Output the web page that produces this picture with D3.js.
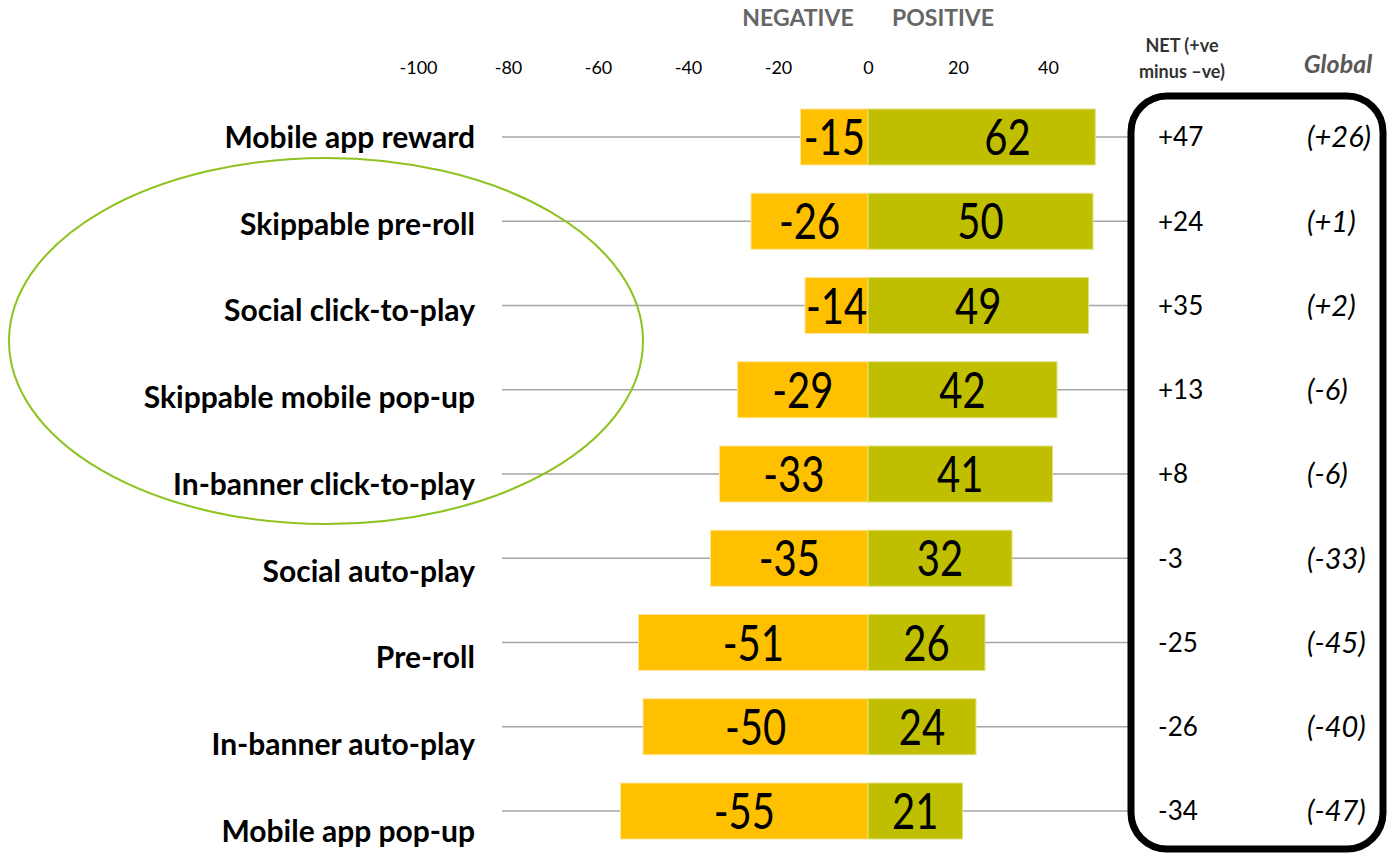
<!DOCTYPE html>
<html>
<head>
<meta charset="utf-8">
<script src="https://cdn.jsdelivr.net/npm/d3@7"></script>
<style>
  html, body { margin: 0; padding: 0; background: #fff; }
  svg { display: block; }
  text { font-family: Lato, "Open Sans", sans-serif; }
</style>
</head>
<body>
<svg id="chart" width="1388" height="857"></svg>
<script>
// Ad formats, ordered from most to least positive
const categories = [
  "Mobile app reward",
  "Skippable pre-roll",
  "Social click-to-play",
  "Skippable mobile pop-up",
  "In-banner click-to-play",
  "Social auto-play",
  "Pre-roll",
  "In-banner auto-play",
  "Mobile app pop-up"
];
const negativeValues = [-15, -26, -14, -29, -33, -35, -51, -50, -55];
const positiveValues = [62, 50, 49, 42, 41, 32, 26, 24, 21];
const netLabels = ["+47", "+24", "+35", "+13", "+8", "-3", "-25", "-26", "-34"];
const globalLabels = ["(+26)", "(+1)", "(+2)", "(-6)", "(-6)", "(-33)", "(-45)", "(-40)", "(-47)"];
const tickValues = [-100, -80, -60, -40, -20, 0, 20, 40];

const svg = d3.select("#chart");

const NEG = "#FFC000";
const POS = "#BFBF00";

// Horizontal value scale; bars are clamped to the plotted range
const x = d3.scaleLinear().domain([-100, 50.5]).range([418, 1095.25]);
const xBar = x.copy().clamp(true);

// Row centres for bars and value columns
const y = d3.scalePoint().domain(categories).range([137, 811]);
// Category label positions
const yLabel = d3.scalePoint().domain(categories).range([137, 831]);
const barH = 56;

// Header texts
svg.append("text").attr("x", 798).attr("y", 26).attr("text-anchor", "middle")
  .attr("font-size", 23).attr("font-weight", 700).attr("fill", "#666666").text("NEGATIVE");
svg.append("text").attr("x", 943).attr("y", 26).attr("text-anchor", "middle")
  .attr("font-size", 23).attr("font-weight", 700).attr("fill", "#666666").text("POSITIVE");

// Top axis tick labels
const axis = d3.axisTop(x).tickValues(tickValues).tickSize(0).tickPadding(0)
  .tickFormat(d => String(d));
const axisG = svg.append("g").attr("transform", "translate(0,74)").call(axis);
axisG.select(".domain").remove();
axisG.selectAll("text").attr("font-size", 18).attr("fill", "#000")
  .attr("font-family", "Lato, sans-serif").attr("dy", 0);

// Row guide lines
svg.append("g").selectAll("line").data(categories).join("line")
  .attr("x1", 502).attr("x2", 1131)
  .attr("y1", d => y(d)).attr("y2", d => y(d))
  .attr("stroke", "#a6a6a6").attr("stroke-width", 1.5);

// Negative bars
svg.append("g").selectAll("rect").data(categories).join("rect")
  .attr("x", (d, i) => xBar(negativeValues[i]))
  .attr("width", (d, i) => x(0) - xBar(negativeValues[i]))
  .attr("y", d => y(d) - barH / 2).attr("height", barH)
  .attr("fill", NEG).attr("stroke", "#ffe699").attr("stroke-width", 1);

// Positive bars
svg.append("g").selectAll("rect").data(categories).join("rect")
  .attr("x", x(0))
  .attr("width", (d, i) => xBar(positiveValues[i]) - x(0))
  .attr("y", d => y(d) - barH / 2).attr("height", barH)
  .attr("fill", POS).attr("stroke", "#e0e080").attr("stroke-width", 1);

// Value labels inside the bars (condensed numerals)
function valueLabel(cx, cy, txt) {
  svg.append("text")
    .attr("transform", `translate(${cx},${cy}) scale(0.8,1)`)
    .attr("text-anchor", "middle").attr("dy", "0.36em")
    .attr("font-size", 50).attr("fill", "#000").text(txt);
}
categories.forEach((c, i) => {
  valueLabel(x(negativeValues[i] / 2), y(c), negativeValues[i]);
  valueLabel(x(positiveValues[i] / 2), y(c), positiveValues[i]);
});

// Category labels
svg.append("g").selectAll("text").data(categories).join("text")
  .attr("x", 475).attr("y", d => yLabel(d)).attr("dy", "0.36em")
  .attr("text-anchor", "end").attr("font-size", 30).attr("font-weight", 700)
  .attr("fill", "#000").text(d => d);

// Highlight ellipse around the click/skip formats
svg.append("ellipse").attr("cx", 326).attr("cy", 341).attr("rx", 317).attr("ry", 183)
  .attr("fill", "none").attr("stroke", "#8dc21f").attr("stroke-width", 2);

// NET column header
svg.append("text").attr("x", 1182).attr("y", 52).attr("text-anchor", "middle")
  .attr("font-size", 18).attr("font-weight", 700).attr("fill", "#333").text("NET (+ve");
svg.append("text").attr("x", 1182).attr("y", 78).attr("text-anchor", "middle")
  .attr("font-size", 18).attr("font-weight", 700).attr("fill", "#333").text("minus \u2013ve)");
svg.append("text").attr("x", 1338).attr("y", 73).attr("text-anchor", "middle")
  .attr("font-size", 25).attr("font-weight", 700).attr("font-style", "italic")
  .attr("fill", "#595959").text("Global");

// Rounded frame around the NET and Global columns
svg.append("rect").attr("x", 1131).attr("y", 96).attr("width", 252).attr("height", 753)
  .attr("rx", 36).attr("ry", 36)
  .attr("fill", "none").attr("stroke", "#000").attr("stroke-width", 7);

// NET values
svg.append("g").selectAll("text").data(categories).join("text")
  .attr("x", 1158).attr("y", d => y(d)).attr("dy", "0.36em")
  .attr("font-size", 26).attr("fill", "#000").text((d, i) => netLabels[i]);

// Global values
svg.append("g").selectAll("text").data(categories).join("text")
  .attr("x", 1307).attr("y", d => y(d)).attr("dy", "0.36em")
  .attr("font-size", 29).attr("font-style", "italic").attr("fill", "#000")
  .text((d, i) => globalLabels[i]);
</script>
</body>
</html>
